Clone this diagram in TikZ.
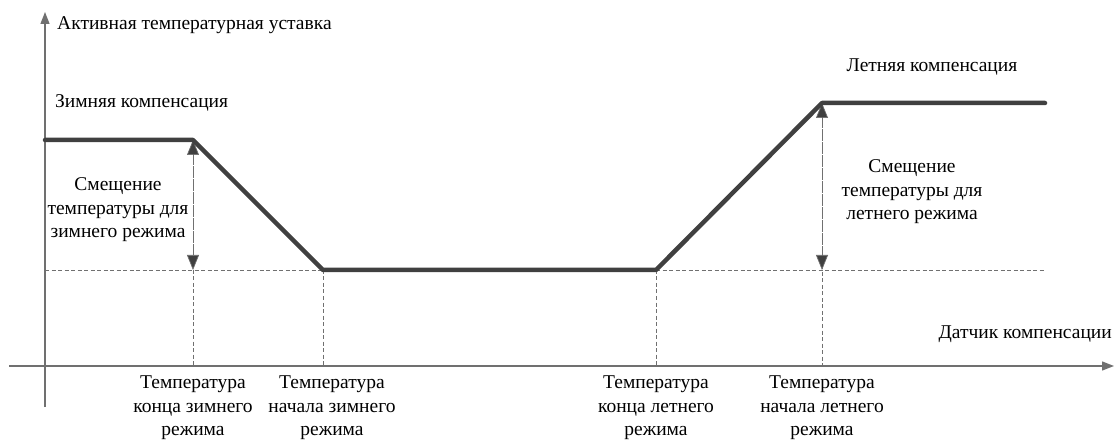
\documentclass[tikz,border=0pt]{standalone}
\usepackage{fontspec}
\setmainfont{Liberation Serif}
\usetikzlibrary{arrows.meta}
\definecolor{curvegray}{HTML}{404040}
\definecolor{axisgray}{HTML}{707070}
\begin{document}
\begin{tikzpicture}[x=1pt,y=-1pt,
  axis/.style={draw=axisgray,line width=1.3pt,-{Triangle[length=12pt,width=9pt]}},
  curve/.style={draw=curvegray,line width=4.5pt,line cap=round,line join=round},
  guide/.style={draw=axisgray,line width=0.7pt,dash pattern=on 4pt off 2.5pt},
  offset/.style={guide,{Triangle[length=15pt,width=12pt,fill=curvegray]}-{Triangle[length=15pt,width=12pt,fill=curvegray]}},
  lbl/.style={font=\fontsize{19.5}{23.5}\selectfont,inner sep=0pt,align=center}]
\useasboundingbox (0,0) rectangle (1116,446);
% corners of the setpoint curve
\coordinate (w0) at (45,140);
\coordinate (w1) at (193,140);
\coordinate (w2) at (323,270);
\coordinate (s1) at (656,270);
\coordinate (s2) at (822,103);
\coordinate (s3) at (1045,103);
\coordinate (b0) at (45,270);
\coordinate (b1) at (1045,270);
% feet on the sensor axis
\coordinate (f1) at (193,366);
\coordinate (f2) at (323,366);
\coordinate (f3) at (656,366);
\coordinate (f4) at (822,366);
% axes
\coordinate (xs) at (9,366);
\coordinate (xe) at (1114,366);
\coordinate (ys) at (45,407);
\coordinate (ye) at (45,12);
\draw[axis] (xs) -- (xe);
\draw[axis] (ys) -- (ye);
% guides
\draw[guide] (b0) -- (b1);
\draw[guide] (w1) -- (f1);
\draw[guide] (w2) -- (f2);
\draw[guide] (s1) -- (f3);
\draw[guide] (s2) -- (f4);
\draw[offset] (w1) -- (w1 |- b0);
\draw[offset] (s2) -- (s2 |- b0);
% curve
\draw[curve] (w0) -- (w1) -- (w2) -- (s1) -- (s2) -- (s3);
% labels
\node[lbl,anchor=west] (yname) at (57,25) {Активная температурная уставка};
\node[lbl,anchor=west] (winter) at (55,103) {Зимняя компенсация};
\node[lbl] (summer) at (932,67) {Летняя компенсация};
\node[lbl] (woff) at (118,210) {Смещение\\температуры для\\зимнего режима};
\node[lbl] (soff) at (912,192) {Смещение\\температуры для\\летнего режима};
\node[lbl,anchor=east] (xname) at (1112,334) {Датчик компенсации};
\node[lbl,anchor=north] (t1) at (193,376) {Температура\\конца зимнего\\режима};
\node[lbl,anchor=north] (t2) at (332,376) {Температура\\начала зимнего\\режима};
\node[lbl,anchor=north] (t3) at (656,376) {Температура\\конца летнего\\режима};
\node[lbl,anchor=north] (t4) at (822,376) {Температура\\начала летнего\\режима};
\end{tikzpicture}
\end{document}
